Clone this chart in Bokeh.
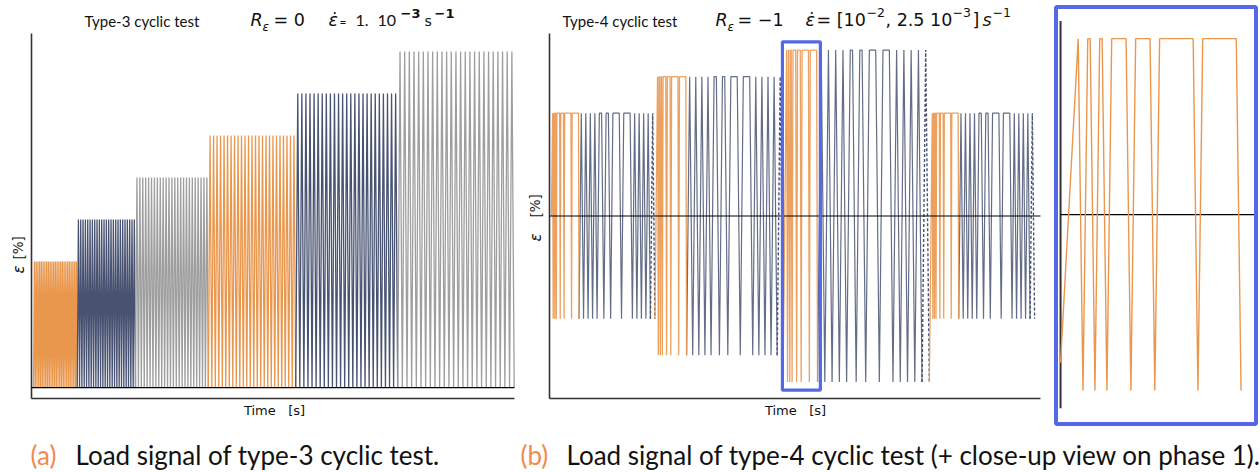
from bokeh.plotting import figure
from bokeh.models import Label, Range1d
from bokeh.layouts import row, column
from bokeh.embed import file_html
from bokeh.resources import INLINE

ORANGE = "#EA974E"
NAVY = "#485372"
GRAY = "#9E9E9E"
BLUE = "#5569E6"
AXIS = "#333333"
CAPTION_ORANGE = "#F08A4B"
INK = "#111111"
NBSP = "\u00a0"

# ---- type-3 test: R = 0, strain rate 1e-3 /s (0.1 %/s) ----
t3_peaks = [0.3, 0.4, 0.5, 0.6, 0.7, 0.8]          # peak strain of each step [%]
t3_cycles = [25, 25, 25, 25, 25, 25]                # cycles per step
t3_colors = [ORANGE, NAVY, GRAY, ORANGE, NAVY, GRAY]
t3_rate = 0.1                                       # %/s

# ---- type-4 test: R = -1, strain rates 1e-2 and 2.5e-3 /s ----
t4_amps = [0.62, 0.84, 1.0, 0.62]                   # strain amplitude of each block [%]
t4_fast_rate = 1.0                                  # %/s
t4_slow_rate = 0.25                                 # %/s
t4_fast_holds = [1, 1, 6, 6, 14, 14]                # hold at peak, phase 1 cycles [s]
t4_slow_holds = [0, 0, 0, 0, 5, 5, 14, 14, 0, 0, 0, 0]  # hold at peak, phase 2 cycles [s]
zoom_block = 2                                      # block shown in the close-up
zoom_length = 81.0                                  # close-up time window [s]


# ---------- build the type-3 signal ----------
t3_segments = []
t = 0.0
for peak, n, col in zip(t3_peaks, t3_cycles, t3_colors):
    ts, es = [t], [0.0]
    half = peak / t3_rate
    for _ in range(n):
        t += half
        ts.append(t); es.append(peak)
        t += half
        ts.append(t); es.append(0.0)
    t3_segments.append((ts, es, col))
t3_end = t

# ---------- build the type-4 signal ----------
t4_blocks = []
t = 0.0
prev = 0.0
for amp in t4_amps:
    # phase 1: slow rise, then fast cycles with holds at the peak
    ts, es = [t], [-prev]
    t += (amp + prev) / t4_slow_rate
    ts.append(t); es.append(amp)
    for h in t4_fast_holds:
        t += 2 * amp / t4_fast_rate
        ts.append(t); es.append(-amp)
        t += 2 * amp / t4_fast_rate
        ts.append(t); es.append(amp)
        if h:
            t += h
            ts.append(t); es.append(amp)
    t += 2 * amp / t4_fast_rate
    ts.append(t); es.append(-amp)
    phase1 = (ts, es)
    # phase 2: slow cycles
    ts, es = [t], [-amp]
    for h in t4_slow_holds:
        t += 2 * amp / t4_slow_rate
        ts.append(t); es.append(amp)
        if h:
            t += h
            ts.append(t); es.append(amp)
        t += 2 * amp / t4_slow_rate
        ts.append(t); es.append(-amp)
    phase2 = (ts, es)
    # closing cycle
    ts, es = [t], [-amp]
    t += 2 * amp / t4_slow_rate
    ts.append(t); es.append(amp)
    t += 2 * amp / t4_slow_rate
    ts.append(t); es.append(-amp)
    closing = (ts, es)
    t4_blocks.append((phase1, phase2, closing))
    prev = amp
t4_end = t

zoom_start = t4_blocks[zoom_block][0][0][0]
zoom_end = zoom_start + zoom_length

# data limits of each plotting area
A_X = (-7.0, t3_end + 1.0)
A_Y = (-0.026, 0.843)
B_X = (-4.4, t4_end + 13.0)
B_Y = (-1.1, 1.1)
Z_X = (zoom_start - 1.9, zoom_end + 0.6)     # close-up frame
Z_Y = (-1.19, 1.18)
Z_AXIS = (-1.1, 1.1)


def fit_ranges(xlim, ylim, box, width, height):
    """Ranges that put xlim/ylim on the pixel box (left, right, top, bottom)
    of a canvas whose whole area is the plotting frame."""
    left, right, top, bottom = box
    kx = (xlim[1] - xlim[0]) / (right - left)
    ky = (ylim[1] - ylim[0]) / (bottom - top)
    xr = Range1d(xlim[0] - left * kx, xlim[1] + (width - right) * kx)
    yr = Range1d(ylim[0] - (height - bottom) * ky, ylim[1] + top * ky)
    return xr, yr


def canvas(width, height, xr, yr):
    p = figure(width=width, height=height, x_range=xr, y_range=yr, title=None,
               x_axis_type=None, y_axis_type=None, output_backend="svg",
               toolbar_location=None, min_border=0)
    p.outline_line_color = None
    return p


def put(p, x, y, text, size, font="DejaVu Sans", style="normal", color=INK,
        angle=0.0, align="left"):
    # (x, y): left edge / vertical middle of the text, in canvas pixels from top-left
    p.add_layout(Label(x=x, y=p.height - y, x_units="screen", y_units="screen",
                       text=text, text_font=font, text_font_size=f"{size}px",
                       text_font_style=style, text_color=color, angle=angle,
                       text_baseline="middle", text_align=align))


def frame_axes(p, xlim, ylim):
    p.segment(x0=[xlim[0], xlim[0]], y0=[ylim[0], ylim[0]],
              x1=[xlim[0], xlim[1]], y1=[ylim[1], ylim[0]],
              line_color=AXIS, line_width=1.6)
    p.segment(x0=[xlim[0]], y0=[0], x1=[xlim[1]], y1=[0], line_color="black", line_width=1.2)


H = 430
TIME_LABEL = f"Time{NBSP}{NBSP}{NBSP}[s]"

# ---------- panel (a) ----------
xr, yr = fit_ranges(A_X, A_Y, (31, 514, 33, 398), 520, H)
pa = canvas(520, H, xr, yr)
for ts, es, col in t3_segments:
    pa.line(ts, es, line_color=col, line_width=1.3)
frame_axes(pa, A_X, A_Y)

put(pa, 84, 20, "Type-3 cyclic test", 15, font="Lato")
put(pa, 250, 19, "R", 17.5, style="italic")
put(pa, 262, 26, "ε", 12, style="italic")
put(pa, 273, 19, "= 0", 17.5)
put(pa, 328, 19, "ε̇", 17.5, style="italic")
put(pa, 339, 21, "=", 12, font="Lato")
put(pa, 355, 20, "1.", 16, font="Lato")
put(pa, 377, 20, "10", 16, font="Lato")
put(pa, 400, 13, "−3", 13, style="bold")
put(pa, 424, 20, "s", 14)
put(pa, 434, 13, "−1", 13, style="bold")
put(pa, 18, 273, "ε", 15, style="italic", angle=1.5708)
put(pa, 18, 259, "[%]", 13.5, angle=1.5708)
put(pa, 274, 410, TIME_LABEL, 13, align="center")

# ---------- panel (b) ----------
xr, yr = fit_ranges(B_X, B_Y, (29, 520, 33, 398), 528, H)
pb = canvas(528, H, xr, yr)
for phase1, phase2, closing in t4_blocks:
    pb.line(phase2[0], phase2[1], line_color=NAVY, line_width=1.2, line_alpha=0.85)
    pb.line(closing[0], closing[1], line_color=NAVY, line_width=1.4, line_dash="3 2")
    pb.line(phase1[0], phase1[1], line_color=ORANGE, line_width=1.3, line_alpha=0.9)
frame_axes(pb, B_X, B_Y)
pb.quad(left=[Z_X[0]], right=[Z_X[1]], bottom=[-1.05], top=[1.05],
        fill_color=None, line_color=BLUE, line_width=3.2)

put(pb, 42, 20, "Type-4 cyclic test", 15, font="Lato")
put(pb, 195, 19, "R", 17.5, style="italic")
put(pb, 207, 26, "ε", 12, style="italic")
put(pb, 217, 19, "= −1", 17.5)
put(pb, 285, 19, "ε̇", 17.5, style="italic")
put(pb, 296, 19, "= [10", 17.5)
put(pb, 346, 12, "−2", 12.5)
put(pb, 365, 19, ", 2.5 10", 17.5)
put(pb, 432, 12, "−3", 12.5)
put(pb, 452, 19, "]", 17.5)
put(pb, 462, 19, "s", 17.5, style="italic")
put(pb, 472, 12, "−1", 12.5)
put(pb, 15, 241, "ε", 15, style="italic", angle=1.5708)
put(pb, 15, 217, "[%]", 13.5, angle=1.5708)
put(pb, 275, 410, TIME_LABEL, 13, align="center")

# ---------- close-up on phase 1 ----------
xr, yr = fit_ranges(Z_X, Z_Y, (7.5, 207.5, 6.5, 423.5), 212, H)
pc = canvas(212, H, xr, yr)
pc.segment(x0=[zoom_start], y0=[Z_AXIS[0]], x1=[zoom_start], y1=[Z_AXIS[1]],
           line_color=AXIS, line_width=2)
pc.segment(x0=[zoom_start], y0=[0], x1=[Z_X[1]], y1=[0], line_color="black", line_width=1.3)
zp = t4_blocks[zoom_block][0]
pc.line(zp[0], zp[1], line_color=ORANGE, line_width=1.4)
pc.quad(left=[Z_X[0]], right=[Z_X[1]], bottom=[Z_Y[0]], top=[Z_Y[1]],
        fill_color=None, line_color=BLUE, line_width=4)

# ---------- captions ----------
pcap = canvas(1260, 42, Range1d(0, 1260), Range1d(0, 42))
for x, txt, col in [(30, "(a)", CAPTION_ORANGE),
                    (75, "Load signal of type-3 cyclic test.", INK),
                    (520, "(b)", CAPTION_ORANGE),
                    (566, "Load signal of type-4 cyclic test (+ close-up view on phase 1).", INK)]:
    put(pcap, x, 24, txt, 26, font="Lato", color=col)

layout = column(row(pa, pb, pc, spacing=0), pcap, spacing=0)
open("out.html", "w").write(file_html(layout, INLINE))
